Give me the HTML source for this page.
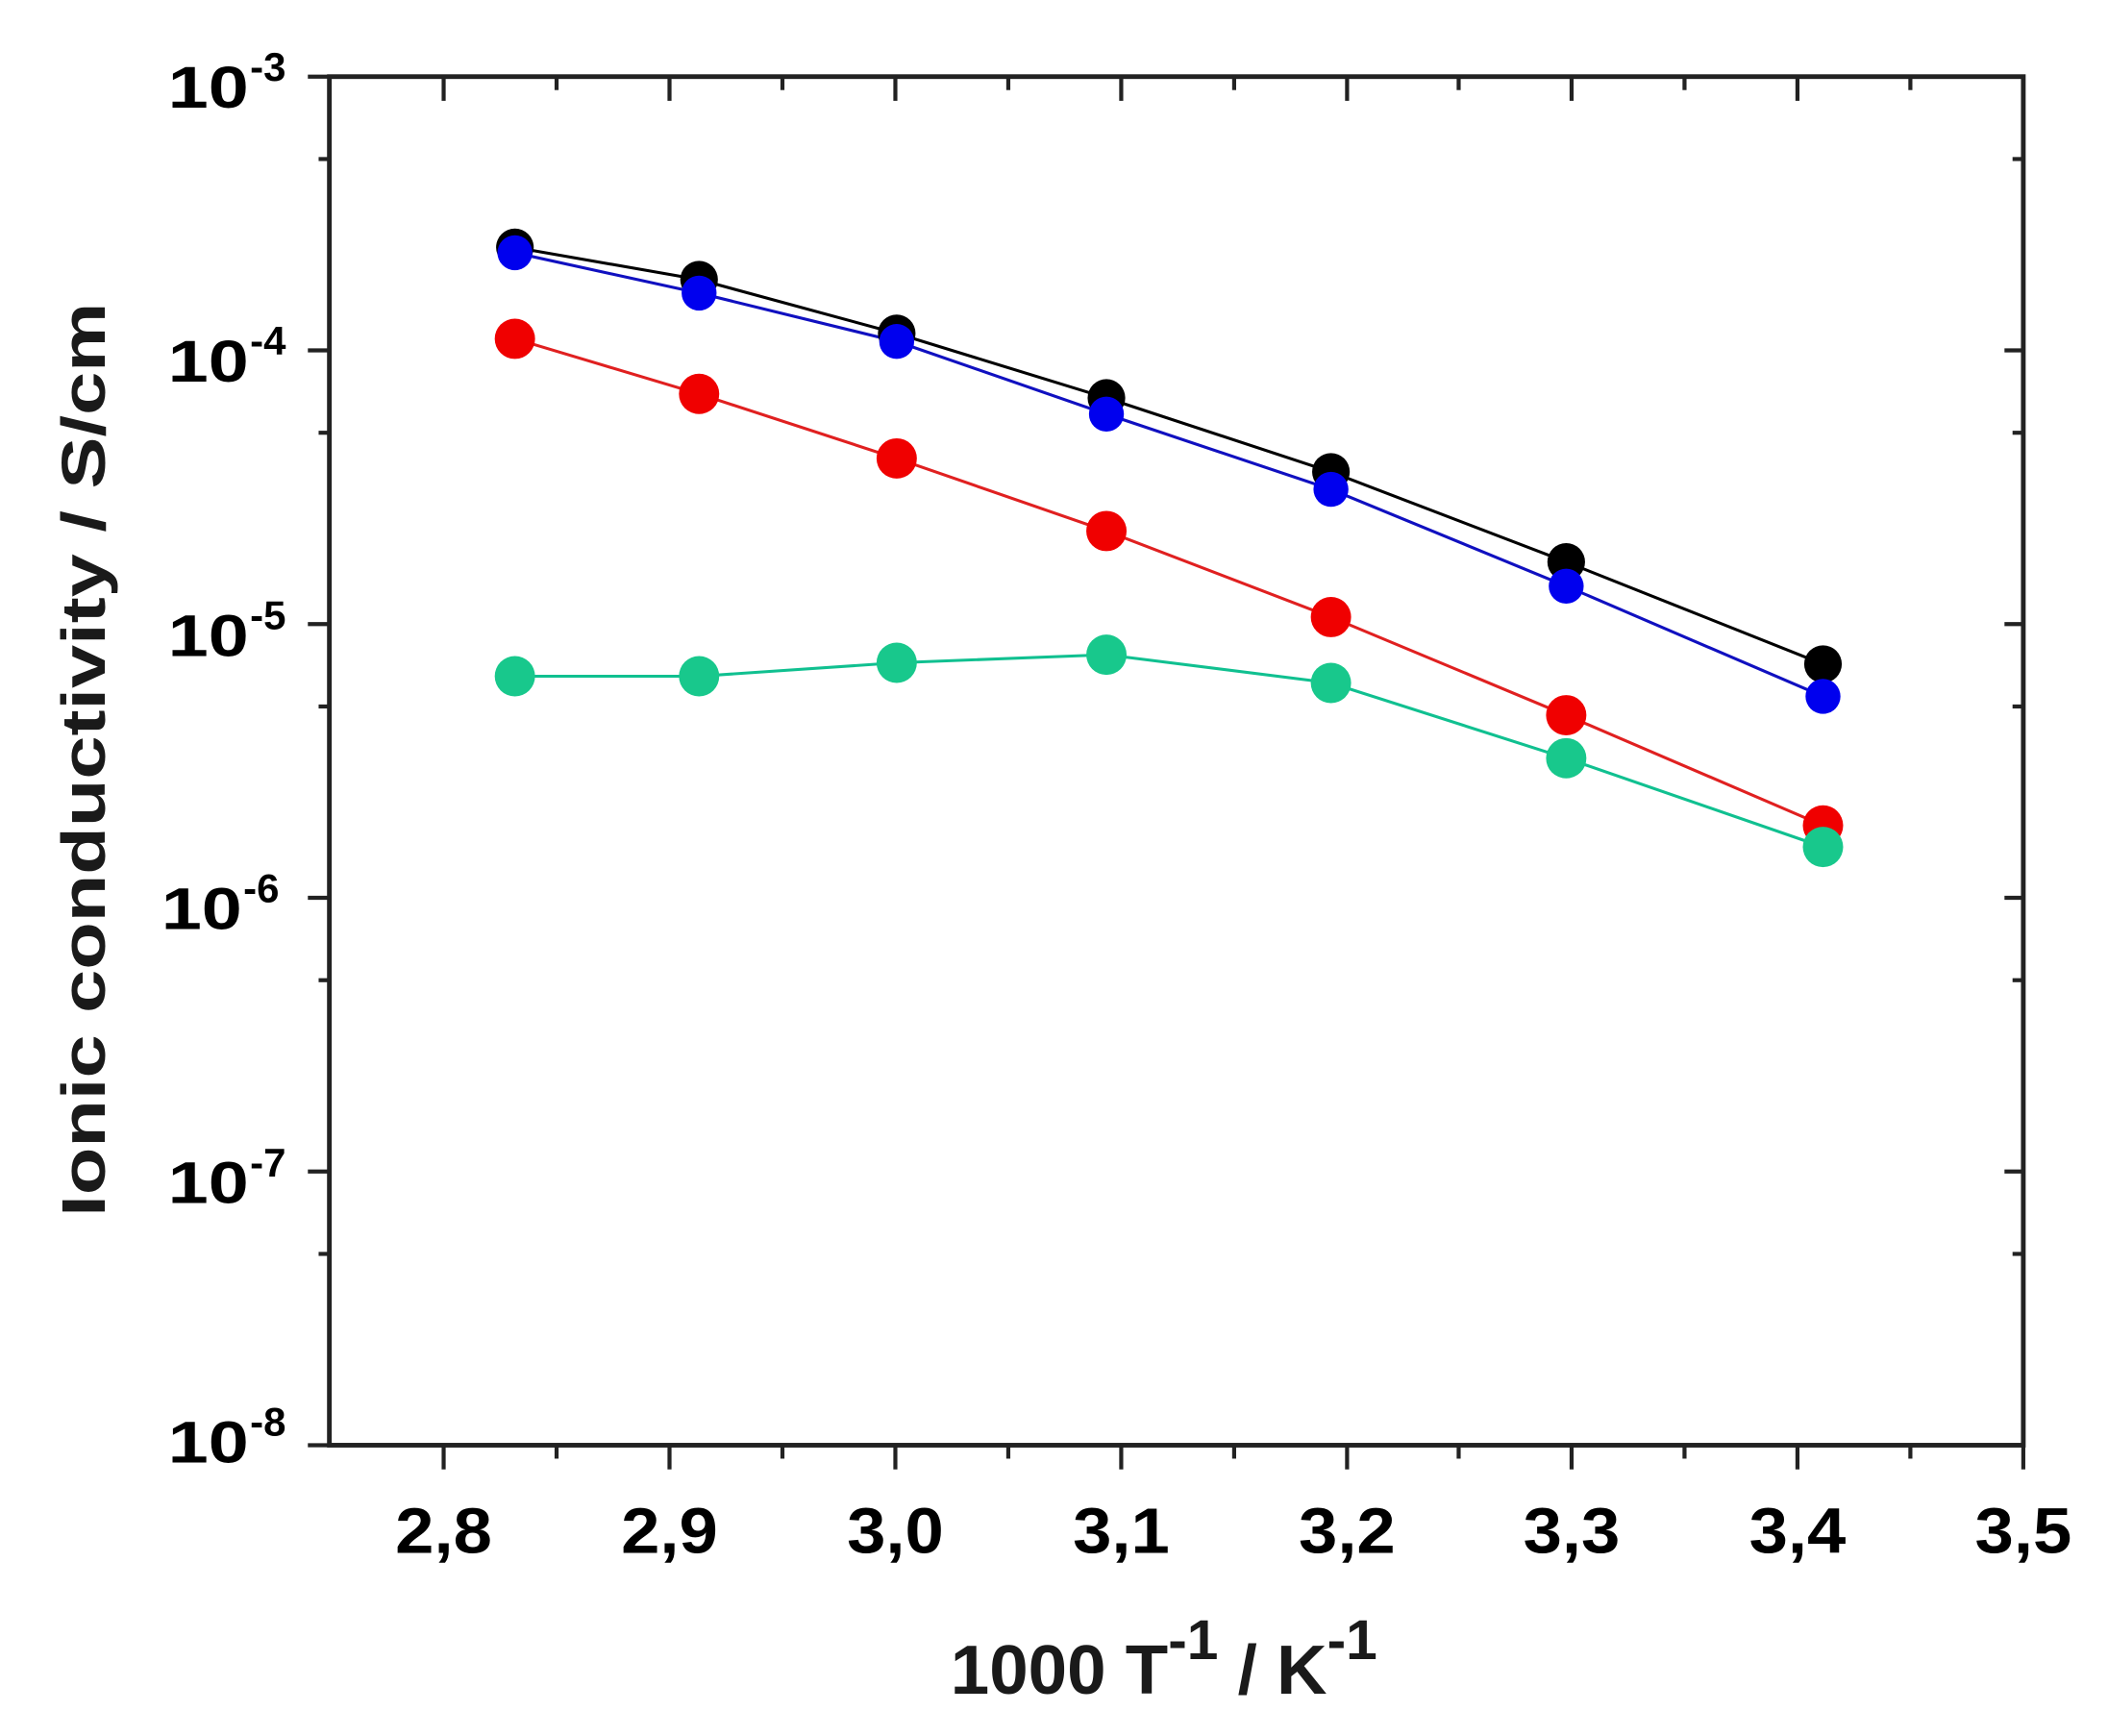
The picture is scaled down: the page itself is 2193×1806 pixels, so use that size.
<!DOCTYPE html>
<html><head><meta charset="utf-8"><style>html,body{margin:0;padding:0;background:#fff}svg{display:block}</style></head>
<body>
<svg width="2193" height="1806" viewBox="0 0 1568 1291.3" preserveAspectRatio="none" xmlns="http://www.w3.org/2000/svg" font-family="Liberation Sans, Arial, sans-serif" font-weight="bold">
<rect width="1568" height="1291.3" fill="#fff"/>
<rect x="245" y="57" width="1260" height="1018" fill="none" stroke="#222" stroke-width="3.5"/>
<g stroke="#222" stroke-width="3">
<line x1="229" y1="57" x2="245" y2="57"/><line x1="229" y1="260.6" x2="245" y2="260.6"/><line x1="229" y1="464.2" x2="245" y2="464.2"/><line x1="229" y1="667.8" x2="245" y2="667.8"/><line x1="229" y1="871.4" x2="245" y2="871.4"/><line x1="229" y1="1075" x2="245" y2="1075"/>
<line x1="237" y1="118.3" x2="245" y2="118.3"/><line x1="237" y1="321.9" x2="245" y2="321.9"/><line x1="237" y1="525.5" x2="245" y2="525.5"/><line x1="237" y1="729.1" x2="245" y2="729.1"/><line x1="237" y1="932.7" x2="245" y2="932.7"/>
<line x1="1491" y1="260.6" x2="1505" y2="260.6"/><line x1="1491" y1="464.2" x2="1505" y2="464.2"/><line x1="1491" y1="667.8" x2="1505" y2="667.8"/><line x1="1491" y1="871.4" x2="1505" y2="871.4"/>
<line x1="1497" y1="118.3" x2="1505" y2="118.3"/><line x1="1497" y1="321.9" x2="1505" y2="321.9"/><line x1="1497" y1="525.5" x2="1505" y2="525.5"/><line x1="1497" y1="729.1" x2="1505" y2="729.1"/><line x1="1497" y1="932.7" x2="1505" y2="932.7"/>
<line x1="330" y1="1075" x2="330" y2="1093"/><line x1="498" y1="1075" x2="498" y2="1093"/><line x1="666" y1="1075" x2="666" y2="1093"/><line x1="834" y1="1075" x2="834" y2="1093"/><line x1="1002" y1="1075" x2="1002" y2="1093"/><line x1="1169" y1="1075" x2="1169" y2="1093"/><line x1="1337" y1="1075" x2="1337" y2="1093"/><line x1="1505" y1="1075" x2="1505" y2="1093"/>
<line x1="414" y1="1075" x2="414" y2="1085"/><line x1="582" y1="1075" x2="582" y2="1085"/><line x1="750" y1="1075" x2="750" y2="1085"/><line x1="918" y1="1075" x2="918" y2="1085"/><line x1="1085" y1="1075" x2="1085" y2="1085"/><line x1="1253" y1="1075" x2="1253" y2="1085"/><line x1="1421" y1="1075" x2="1421" y2="1085"/>
<line x1="330" y1="57" x2="330" y2="75"/><line x1="498" y1="57" x2="498" y2="75"/><line x1="666" y1="57" x2="666" y2="75"/><line x1="834" y1="57" x2="834" y2="75"/><line x1="1002" y1="57" x2="1002" y2="75"/><line x1="1169" y1="57" x2="1169" y2="75"/><line x1="1337" y1="57" x2="1337" y2="75"/>
<line x1="414" y1="57" x2="414" y2="67"/><line x1="582" y1="57" x2="582" y2="67"/><line x1="750" y1="57" x2="750" y2="67"/><line x1="918" y1="57" x2="918" y2="67"/><line x1="1085" y1="57" x2="1085" y2="67"/><line x1="1253" y1="57" x2="1253" y2="67"/><line x1="1421" y1="57" x2="1421" y2="67"/>
</g>
<g fill="#000" font-size="44">
<text x="125" y="80" textLength="60" lengthAdjust="spacingAndGlyphs">10</text><text x="186" y="60" font-size="30">-3</text>
<text x="125" y="284" textLength="60" lengthAdjust="spacingAndGlyphs">10</text><text x="186" y="264" font-size="30">-4</text>
<text x="125" y="488" textLength="60" lengthAdjust="spacingAndGlyphs">10</text><text x="186" y="468" font-size="30">-5</text>
<text x="120" y="691" textLength="60" lengthAdjust="spacingAndGlyphs">10</text><text x="181" y="671" font-size="30">-6</text>
<text x="125" y="895" textLength="60" lengthAdjust="spacingAndGlyphs">10</text><text x="186" y="875" font-size="30">-7</text>
<text x="125" y="1088" textLength="60" lengthAdjust="spacingAndGlyphs">10</text><text x="186" y="1068" font-size="30">-8</text>
</g>
<g fill="#000" font-size="48" text-anchor="middle">
<text x="330" y="1155" textLength="72" lengthAdjust="spacingAndGlyphs">2,8</text>
<text x="498" y="1155" textLength="72" lengthAdjust="spacingAndGlyphs">2,9</text>
<text x="666" y="1155" textLength="72" lengthAdjust="spacingAndGlyphs">3,0</text>
<text x="834" y="1155" textLength="72" lengthAdjust="spacingAndGlyphs">3,1</text>
<text x="1002" y="1155" textLength="72" lengthAdjust="spacingAndGlyphs">3,2</text>
<text x="1169" y="1155" textLength="72" lengthAdjust="spacingAndGlyphs">3,3</text>
<text x="1337" y="1155" textLength="72" lengthAdjust="spacingAndGlyphs">3,4</text>
<text x="1505" y="1155" textLength="72" lengthAdjust="spacingAndGlyphs">3,5</text>
</g>
<text x="707" y="1260" font-size="52" fill="#1a1a1a">1000 T<tspan font-size="42" dy="-26">-1</tspan><tspan dy="26"> / K</tspan><tspan font-size="42" dy="-26">-1</tspan></text>
<text transform="translate(78,565) rotate(-90)" text-anchor="middle" font-size="46" fill="#1a1a1a" textLength="680" lengthAdjust="spacingAndGlyphs">Ionic conductivity / S/cm</text>
<g stroke-width="2.2" fill="none">
<polyline stroke="#000" points="383,184 520,208 667,248 823,296 990,351 1165,418 1356,494"/>
<polyline stroke="#1010c0" points="383,188 520,218 667,254 823,308 990,364 1165,436 1356,518"/>
<polyline stroke="#e02020" points="383,252 520,293 667,341 823,395 990,459 1165,532 1356,614"/>
<polyline stroke="#10c090" points="383,503 520,503 667,493 823,487 990,508 1165,564 1356,630"/>
</g>
<g fill="#000"><circle cx="383" cy="184" r="14"/><circle cx="520" cy="208" r="14"/><circle cx="667" cy="248" r="14"/><circle cx="823" cy="296" r="14"/><circle cx="990" cy="351" r="14"/><circle cx="1165" cy="418" r="14"/><circle cx="1356" cy="494" r="14"/></g>
<g fill="#0000ee"><circle cx="383" cy="188" r="13"/><circle cx="520" cy="218" r="13"/><circle cx="667" cy="254" r="13"/><circle cx="823" cy="308" r="13"/><circle cx="990" cy="364" r="13"/><circle cx="1165" cy="436" r="13"/><circle cx="1356" cy="518" r="13"/></g>
<g fill="#f00000"><circle cx="383" cy="252" r="15"/><circle cx="520" cy="293" r="15"/><circle cx="667" cy="341" r="15"/><circle cx="823" cy="395" r="15"/><circle cx="990" cy="459" r="15"/><circle cx="1165" cy="532" r="15"/><circle cx="1356" cy="614" r="15"/></g>
<g fill="#18c88c"><circle cx="383" cy="503" r="15"/><circle cx="520" cy="503" r="15"/><circle cx="667" cy="493" r="15"/><circle cx="823" cy="487" r="15"/><circle cx="990" cy="508" r="15"/><circle cx="1165" cy="564" r="15"/><circle cx="1356" cy="630" r="15"/></g>
</svg>
</body></html>
